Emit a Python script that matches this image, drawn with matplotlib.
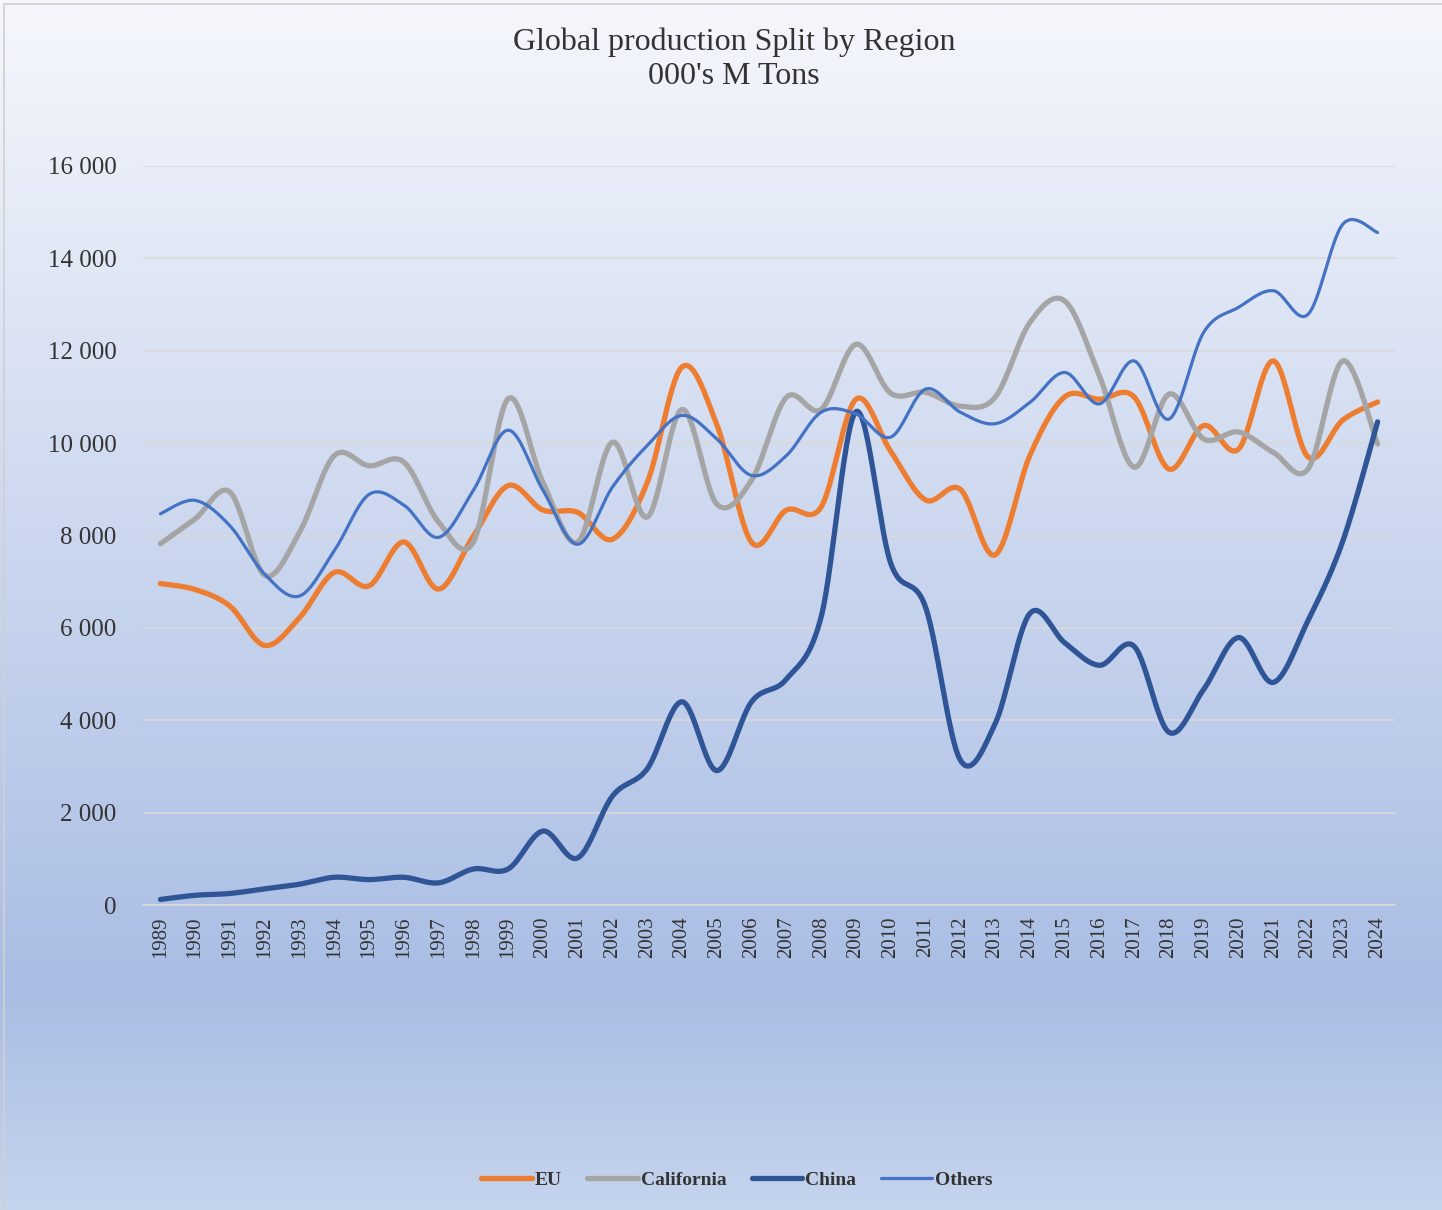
import numpy as np
import matplotlib
matplotlib.use("Agg")
import matplotlib.pyplot as plt
from matplotlib.ticker import FuncFormatter, FixedLocator
from matplotlib.colors import LinearSegmentedColormap
from matplotlib.patches import Rectangle

years = [str(y) for y in range(1989, 2025)]

eu = [6960, 6830, 6470, 5620, 6220, 7200, 6910, 7860, 6840, 7990,
      9080, 8550, 8500, 7920, 9150, 11650, 10400, 7850, 8550, 8620,
      10950, 9820, 8770, 9000, 7580, 9730, 11000, 10950, 11000, 9440,
      10380, 9870, 11780, 9700, 10500, 10890]
california = [7820, 8360, 8940, 7140, 8070, 9730, 9510, 9590, 8290, 7860,
              10960, 9150, 7860, 10020, 8400, 10730, 8680, 9200, 10990, 10730,
              12140, 11080, 11100, 10800, 10990, 12610, 13080, 11460, 9480, 11060,
              10090, 10240, 9800, 9440, 11780, 9980]
china = [120, 210, 250, 350, 450, 600, 550, 600, 480, 780,
         780, 1600, 1020, 2360, 2950, 4400, 2910, 4400, 4890, 6240,
         10680, 7400, 6450, 3140, 3920, 6310, 5680, 5190, 5600, 3740,
         4670, 5790, 4820, 6160, 7880, 10460]
others = [8470, 8760, 8210, 7160, 6690, 7670, 8890, 8660, 7960, 8980,
          10280, 8980, 7810, 9050, 9950, 10600, 10090, 9300, 9730, 10670,
          10630, 10130, 11170, 10670, 10420, 10880, 11530, 10850, 11780, 10520,
          12400, 12940, 13300, 12790, 14740, 14560]

series = [("EU", eu, "#ED7D31", 3.8),
          ("California", california, "#A5A5A5", 3.8),
          ("China", china, "#2F5597", 3.8),
          ("Others", others, "#4472C4", 2.3)]

yticks = [0, 2000, 4000, 6000, 8000, 10000, 12000, 14000, 16000]


def smooth(xs, ys, n=30):
    xs = np.asarray(xs, float)
    ys = np.asarray(ys, float)
    px = np.concatenate([[xs[0]], xs, [xs[-1]]])
    py = np.concatenate([[ys[0]], ys, [ys[-1]]])
    outx, outy = [], []
    t = np.linspace(0, 1, n)
    for i in range(1, len(px) - 2):
        p0x, p1x, p2x, p3x = px[i - 1], px[i], px[i + 1], px[i + 2]
        p0y, p1y, p2y, p3y = py[i - 1], py[i], py[i + 1], py[i + 2]
        c1x = p1x + (p2x - p0x) / 6
        c1y = p1y + (p2y - p0y) / 6
        c2x = p2x - (p3x - p1x) / 6
        c2y = p2y - (p3y - p1y) / 6
        bx = (1 - t) ** 3 * p1x + 3 * (1 - t) ** 2 * t * c1x + 3 * (1 - t) * t ** 2 * c2x + t ** 3 * p2x
        by = (1 - t) ** 3 * p1y + 3 * (1 - t) ** 2 * t * c1y + 3 * (1 - t) * t ** 2 * c2y + t ** 3 * p2y
        outx.extend(bx)
        outy.extend(by)
    return np.array(outx), np.array(outy)


plt.rcParams["font.family"] = ["Liberation Serif", "DejaVu Serif"]

fig = plt.figure(figsize=(14.42, 12.10), dpi=100)

# background gradient
bg = fig.add_axes([0, 0, 1, 1], zorder=-10)
cmap = LinearSegmentedColormap.from_list(
    "bg", [(0.0, (245/255, 247/255, 252/255)),
           (0.82, (169/255, 189/255, 228/255)),
           (1.0, (197/255, 212/255, 237/255))])
grad = np.linspace(0, 1, 512).reshape(-1, 1)
bg.imshow(grad, aspect="auto", cmap=cmap, extent=[0, 1, 0, 1], origin="upper")
bg.set_xlim(0, 1)
bg.set_ylim(0, 1)
bg.axis("off")
fig.patches.append(Rectangle((4/1442, -0.01), 1.02, 1 - 4/1210 + 0.01,
                             transform=fig.transFigure, fill=False,
                             edgecolor="#D0D0D0", linewidth=1.2, zorder=-5))

ax = fig.add_axes([143/1442, 1 - 905/1210, (1395 - 143)/1442, (905 - 166)/1210])
ax.patch.set_alpha(0)

x = np.arange(len(years))
for name, vals, color, lw in series:
    sx, sy = smooth(x, vals)
    ax.plot(sx, sy, color=color, linewidth=lw, label=name,
            solid_capstyle="round", solid_joinstyle="round")

ax.set_xlim(-0.5, len(years) - 0.5)
ax.set_ylim(0, 16000)
ax.yaxis.set_major_locator(FixedLocator(yticks))
ax.yaxis.set_major_formatter(FuncFormatter(lambda v, p: f"{v:,.0f}".replace(",", " ")))
ax.set_xticks(x)
ax.set_xticklabels(years, rotation=90)
ax.tick_params(axis="y", length=0, pad=19, labelsize=18, labelcolor="#333333")
ax.tick_params(axis="x", length=0, pad=8, labelsize=15, labelcolor="#333333")
ax.grid(axis="y", color="#D9D9D9", linewidth=1.2)
ax.set_axisbelow(True)
for s in ["top", "right", "left"]:
    ax.spines[s].set_visible(False)
ax.spines["bottom"].set_color("#D9D9D9")
ax.spines["bottom"].set_linewidth(1.2)

fig.text(0.509, 1 - 42/1210, "Global production Split by Region", ha="center",
         va="center", fontsize=23, color="#333333")
fig.text(0.509, 1 - 76/1210, "000's M Tons", ha="center", va="center",
         fontsize=23, color="#333333")

leg = fig.legend(loc="center", bbox_to_anchor=(0.511, 1 - 1180/1210), ncol=4,
                 frameon=False, handlelength=2.6, columnspacing=1.3,
                 handletextpad=0.15, prop={"weight": "bold", "size": 14})
for t in leg.get_texts():
    t.set_color("#333333")

fig.savefig("out.png", dpi=100)
